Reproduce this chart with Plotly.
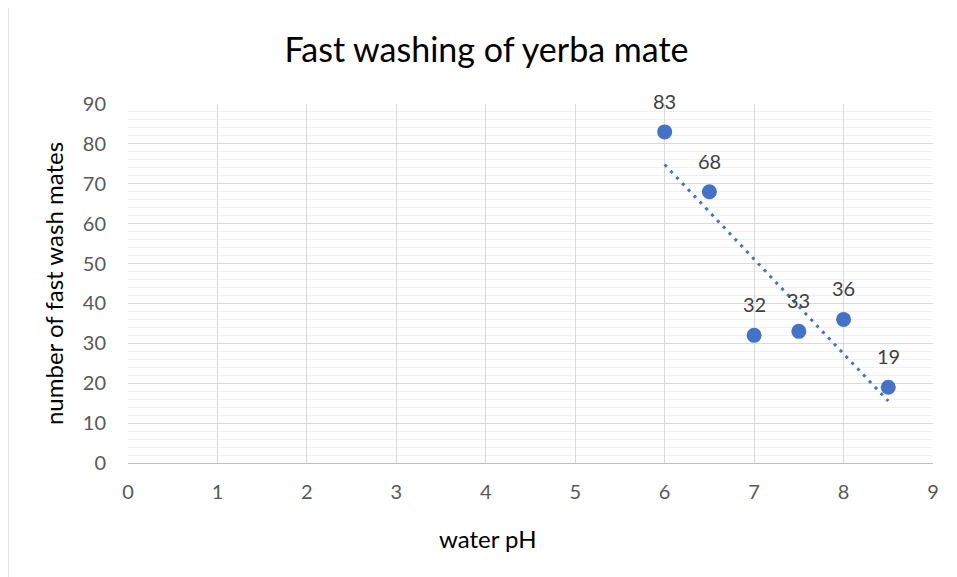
import numpy as np
import plotly.graph_objects as go

ph = [6, 6.5, 7, 7.5, 8, 8.5]
mates = [83, 68, 32, 33, 36, 19]
x_ticks = list(range(0, 10))
y_ticks = list(range(0, 100, 10))

BLUE = "#4472C4"
FONT = "Lato"

slope, intercept = np.polyfit(ph, mates, 1)
tx = [min(ph), max(ph)]
ty = [slope * v + intercept for v in tx]

fig = go.Figure()
fig.add_trace(go.Scatter(x=tx, y=ty, mode="lines",
                         line=dict(color=BLUE, width=3, dash="3px,5.5px"),
                         hoverinfo="skip", showlegend=False))
fig.add_trace(go.Scatter(x=ph, y=mates, mode="markers",
                         marker=dict(color=BLUE, size=15),
                         showlegend=False))

for xv, yv in zip(ph, mates):
    fig.add_annotation(x=xv, y=yv, text=str(yv), showarrow=False,
                       yshift=31, font=dict(family=FONT, size=20, color="#404040"))

# x-axis title (centred on the whole chart, as in the original)
fig.add_annotation(text="water pH", xref="paper", yref="paper",
                   x=(487.5 - 128) / 805, y=(463 - 538) / 359,
                   xanchor="center", yanchor="middle", showarrow=False,
                   font=dict(family=FONT, size=24, color="#000000"))

fig.add_shape(type="rect", xref="paper", yref="paper",
              x0=(8 - 128) / 805, x1=(962 - 128) / 805,
              y0=(463 - 585) / 359, y1=(463 - 6.5) / 359,
              line=dict(color="#d9d9d9", width=1.3), layer="below")

fig.update_layout(
    width=957, height=577,
    margin=dict(l=120, r=32, t=96, b=122),
    paper_bgcolor="white", plot_bgcolor="white",
    font=dict(family=FONT, color="#595959", size=20),
    title=dict(text="Fast washing of yerba mate", x=0.5, xanchor="center",
               xref="container", y=1 - 42 / 577, yanchor="middle",
               font=dict(family=FONT, size=34, color="#000000")),
    xaxis=dict(range=[0, 9], tickvals=x_ticks, showgrid=True,
               gridcolor="#d9d9d9", gridwidth=1, zeroline=False,
               showline=True, linecolor="#bfbfbf", linewidth=1.3,
               ticks="", ticklabelstandoff=11,
               tickfont=dict(size=20, color="#595959")),
    yaxis=dict(range=[0, 90], tickvals=y_ticks, showgrid=True,
               gridcolor="#d9d9d9", gridwidth=1, zeroline=False,
               showline=False, ticks="", ticklabelstandoff=21,
               minor=dict(dtick=2, showgrid=True, gridcolor="#efefef", gridwidth=1),
               tickfont=dict(size=20, color="#595959"),
               title=dict(text="number of fast wash mates", standoff=12,
                          font=dict(size=24, color="#000000"))),
)

fig.write_html("out.html")
